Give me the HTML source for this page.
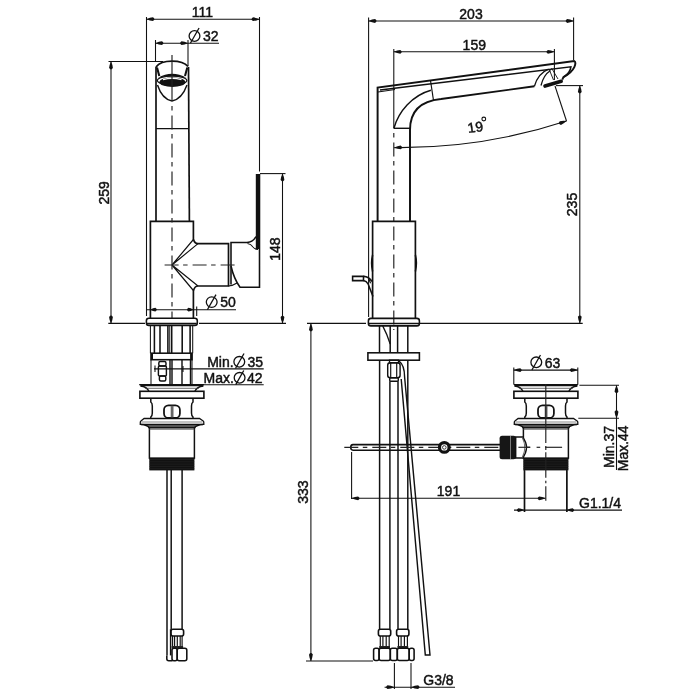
<!DOCTYPE html>
<html><head><meta charset="utf-8"><style>
html,body{margin:0;padding:0;background:#fff;}
svg{display:block;filter:grayscale(1);}
text{font-family:"Liberation Sans",sans-serif;fill:#111;stroke:#111;stroke-width:0.45px;}
</style></head><body>
<svg width="700" height="700" viewBox="0 0 700 700" stroke-linecap="butt">
<rect width="700" height="700" fill="#fff"/>
<line x1="146.5" y1="17" x2="146.5" y2="316" stroke="#111" stroke-width="1.07" />
<line x1="259.5" y1="17" x2="259.5" y2="171.5" stroke="#111" stroke-width="1.07" />
<line x1="146.5" y1="19.2" x2="259.5" y2="19.2" stroke="#111" stroke-width="1.07" />
<path d="M146.50,19.20 Q150.07,17.49 153.00,17.30 Q155.85,19.20 153.00,21.10 Q150.07,20.91 146.50,19.20 Z" fill="#111"/>
<path d="M259.50,19.20 Q255.93,20.91 253.00,21.10 Q250.15,19.20 253.00,17.30 Q255.93,17.49 259.50,19.20 Z" fill="#111"/>
<text x="202.5" y="16.8" text-anchor="middle" font-size="14" >111</text>
<line x1="155.5" y1="40" x2="155.5" y2="62" stroke="#111" stroke-width="1.07" />
<line x1="188" y1="40" x2="188" y2="66" stroke="#111" stroke-width="1.07" />
<line x1="155.5" y1="43.2" x2="219" y2="43.2" stroke="#111" stroke-width="1.07" />
<path d="M155.50,43.20 Q159.07,41.49 162.00,41.30 Q164.85,43.20 162.00,45.10 Q159.07,44.91 155.50,43.20 Z" fill="#111"/>
<path d="M188.00,43.20 Q184.43,44.91 181.50,45.10 Q178.65,43.20 181.50,41.30 Q184.43,41.49 188.00,43.20 Z" fill="#111"/>
<ellipse cx="194.5" cy="36" rx="5.39" ry="5.3" fill="none" stroke="#111" stroke-width="1.3"/>
<line x1="190.40" y1="43.2" x2="199.06" y2="28" stroke="#111" stroke-width="1.3"/>
<text x="203.0" y="40.7" text-anchor="start" font-size="14" >32</text>
<line x1="108.5" y1="61.5" x2="163" y2="61.5" stroke="#111" stroke-width="1.07" />
<line x1="111" y1="61.5" x2="111" y2="323.5" stroke="#111" stroke-width="1.07" />
<path d="M111.00,61.50 Q112.71,65.08 112.90,68.00 Q111.00,70.85 109.10,68.00 Q109.29,65.08 111.00,61.50 Z" fill="#111"/>
<path d="M111.00,323.50 Q109.29,319.93 109.10,317.00 Q111.00,314.15 112.90,317.00 Q112.71,319.93 111.00,323.50 Z" fill="#111"/>
<text transform="translate(103.6,192.9) rotate(-90)" text-anchor="middle" y="5.04" font-size="14" >259</text>
<line x1="108.3" y1="323.4" x2="145" y2="323.4" stroke="#111" stroke-width="1.07" />
<line x1="199" y1="323.4" x2="286" y2="323.4" stroke="#111" stroke-width="1.07" />
<path d="M156,67 C159,63 165,61.2 172,61.2 C179,61.2 185,63 188,66.5" stroke="#111" stroke-width="1.82" fill="none" />
<line x1="156" y1="67" x2="156" y2="221.4" stroke="#111" stroke-width="1.69" />
<line x1="188.5" y1="67" x2="189.4" y2="221.4" stroke="#111" stroke-width="1.69" />
<line x1="156" y1="128.6" x2="189" y2="128.6" stroke="#111" stroke-width="1.3" />
<path d="M157,67.5 L159.3,76 M187.3,67.5 L185,76" stroke="#111" stroke-width="2.08" fill="none" />
<path d="M158,77.8 Q172,69.5 186.5,77.8 Q172,74 158,77.8 Z" fill="#111"/>
<ellipse cx="172.1" cy="80.6" rx="14.75" ry="4.4" fill="none" stroke="#111" stroke-width="1.3"/>
<ellipse cx="172.4" cy="82.2" rx="13" ry="4.8" fill="#111"/>
<path d="M163,79.6 Q172,77.2 181.5,79.6" fill="none" stroke="#fff" stroke-width="1.3"/>
<path d="M157.5,85 Q162,99 172,101 Q182,99 187,85" stroke="#111" stroke-width="1.43" fill="none" />
<path d="M150.4,318.2 L150.4,221.4 L193.4,221.4 L193.4,239 Q194.5,243.6 198,243.6 L228.5,243.6 L228.5,286 L198,286 Q194.5,286 193.4,291 L193.4,318.2" stroke="#111" stroke-width="1.69" fill="none" />
<path d="M172,265 L193.4,239.5 M172,265 L198,243.6 M172,265 L193.4,290.5 M172,265 L198,286" stroke="#111" stroke-width="1.17" fill="none" />
<path d="M231,284.4 L231,242.5 L247,242.5 Q253,242 256,236.5" stroke="#111" stroke-width="1.56" fill="none" />
<path d="M231,266 Q234,279 240,287.3 L259.5,287.3 L259.5,174" stroke="#111" stroke-width="1.56" fill="none" />
<rect x="255.8" y="174" width="4.2" height="75" rx="0" stroke="#111" stroke-width="0.0" fill="#111"/>
<path d="M247.5,243.5 Q251,244 253,247 Q255,249.5 258,249.5" stroke="#111" stroke-width="1.04" fill="none" />
<path d="M228.5,286 Q233,285.6 237,283" stroke="#111" stroke-width="1.17" fill="none" />
<line x1="172" y1="55" x2="172" y2="101" stroke="#222" stroke-width="1.17" />
<line x1="172" y1="106" x2="172" y2="318" stroke="#222" stroke-width="1.17" stroke-dasharray="14 4.5 4.5 5" stroke-dashoffset="18.60"/>
<line x1="163" y1="265" x2="237.5" y2="265" stroke="#222" stroke-width="1.17" stroke-dasharray="14 4.5 4.5 5" stroke-dashoffset="26.40"/>
<line x1="260" y1="173.6" x2="285.5" y2="173.6" stroke="#111" stroke-width="1.07" />
<line x1="282.5" y1="173.6" x2="282.5" y2="323.6" stroke="#111" stroke-width="1.07" />
<path d="M282.50,173.60 Q284.21,177.17 284.40,180.10 Q282.50,182.95 280.60,180.10 Q280.79,177.17 282.50,173.60 Z" fill="#111"/>
<path d="M282.50,323.60 Q280.79,320.03 280.60,317.10 Q282.50,314.25 284.40,317.10 Q284.21,320.03 282.50,323.60 Z" fill="#111"/>
<text transform="translate(275,249.2) rotate(-90)" text-anchor="middle" y="5.04" font-size="14" >148</text>
<line x1="146.5" y1="309.7" x2="236" y2="309.7" stroke="#111" stroke-width="1.07" />
<path d="M150.40,309.70 Q153.15,307.99 155.40,307.80 Q158.25,309.70 155.40,311.60 Q153.15,311.41 150.40,309.70 Z" fill="#111"/>
<path d="M193.40,309.70 Q190.65,311.41 188.40,311.60 Q185.55,309.70 188.40,307.80 Q190.65,307.99 193.40,309.70 Z" fill="#111"/>
<line x1="196.7" y1="306.5" x2="196.7" y2="316" stroke="#111" stroke-width="1.07" />
<ellipse cx="211.7" cy="302.1" rx="5.39" ry="5.3" fill="none" stroke="#111" stroke-width="1.3"/>
<line x1="207.37" y1="309.7" x2="215.97" y2="294.6" stroke="#111" stroke-width="1.3"/>
<text x="220.3" y="307.1" text-anchor="start" font-size="14" >50</text>
<rect x="146.4" y="318.2" width="50.9" height="7.2" rx="2.5" stroke="#111" stroke-width="1.56" fill="none"/>
<line x1="147" y1="323.5" x2="196.7" y2="323.5" stroke="#111" stroke-width="1.3" />
<line x1="150.4" y1="325.4" x2="150.4" y2="353.2" stroke="#111" stroke-width="1.04" />
<line x1="192.7" y1="325.4" x2="192.7" y2="353.2" stroke="#111" stroke-width="1.04" />
<line x1="154.4" y1="325.4" x2="154.4" y2="353.2" stroke="#111" stroke-width="1.56" />
<line x1="160" y1="325.4" x2="160" y2="353.2" stroke="#111" stroke-width="1.56" />
<line x1="167.9" y1="325.4" x2="167.9" y2="353.2" stroke="#111" stroke-width="1.56" />
<line x1="171.7" y1="325.4" x2="171.7" y2="353.2" stroke="#111" stroke-width="1.56" />
<line x1="182.2" y1="325.4" x2="182.2" y2="353.2" stroke="#111" stroke-width="1.56" />
<line x1="190.1" y1="325.4" x2="190.1" y2="353.2" stroke="#111" stroke-width="1.56" />
<line x1="169.7" y1="325.4" x2="169.7" y2="353.2" stroke="#111" stroke-width="0.91" />
<rect x="151" y="353.2" width="41.1" height="6.5" rx="0" stroke="#111" stroke-width="1.56" fill="none"/>
<rect x="151" y="353.2" width="2" height="6.5" rx="0" stroke="#111" stroke-width="0.0" fill="#111"/>
<rect x="190.1" y="353.2" width="2" height="6.5" rx="0" stroke="#111" stroke-width="0.0" fill="#111"/>
<line x1="151" y1="359.7" x2="151" y2="384" stroke="#111" stroke-width="1.04" />
<line x1="192" y1="359.7" x2="192" y2="384" stroke="#111" stroke-width="1.04" />
<line x1="170" y1="359.7" x2="170" y2="384" stroke="#111" stroke-width="1.43" />
<line x1="172" y1="359.7" x2="172" y2="384" stroke="#111" stroke-width="1.43" />
<line x1="182" y1="359.7" x2="182" y2="384" stroke="#111" stroke-width="1.43" />
<line x1="190.5" y1="359.7" x2="190.5" y2="384" stroke="#111" stroke-width="1.43" />
<rect x="158.8" y="361.5" width="7.2" height="4.5" rx="1.5" stroke="#111" stroke-width="1.43" fill="none"/>
<rect x="158.4" y="366" width="8" height="10" rx="1" stroke="#111" stroke-width="1.43" fill="none"/>
<rect x="159.4" y="376" width="6.4" height="5" rx="1.5" stroke="#111" stroke-width="1.43" fill="none"/>
<text x="207.2" y="366.6" text-anchor="start" font-size="14" >Min.</text>
<ellipse cx="239.3" cy="361.8" rx="5.39" ry="5.3" fill="none" stroke="#111" stroke-width="1.3"/>
<line x1="235.48" y1="368.5" x2="244.03" y2="353.5" stroke="#111" stroke-width="1.3"/>
<text x="247.5" y="366.6" text-anchor="start" font-size="14" >35</text>
<text x="203.6" y="382.6" text-anchor="start" font-size="14" >Max.</text>
<ellipse cx="239.6" cy="377.8" rx="5.39" ry="5.3" fill="none" stroke="#111" stroke-width="1.3"/>
<line x1="235.73" y1="384.6" x2="243.76" y2="370.5" stroke="#111" stroke-width="1.3"/>
<text x="247" y="382.6" text-anchor="start" font-size="14" >42</text>
<line x1="154" y1="368.9" x2="263.7" y2="368.9" stroke="#111" stroke-width="1.07" />
<line x1="183" y1="366" x2="183" y2="372" stroke="#111" stroke-width="1.07" />
<line x1="155" y1="365.5" x2="155" y2="372" stroke="#111" stroke-width="1.07" />
<line x1="139" y1="384.8" x2="263.7" y2="384.8" stroke="#111" stroke-width="1.07" />
<path d="M139.5,384 L204.3,384 L202.9,386.3 L140.9,386.3 Z" fill="#111"/>
<path d="M140.4,386 Q146.9,386.5 148.9,391.3 M203.4,386 Q196.9,386.5 194.9,391.3" stroke="#111" stroke-width="1.43" fill="none" />
<line x1="144.9" y1="388.3" x2="198.9" y2="388.3" stroke="#444" stroke-width="0.78" />
<rect x="139.9" y="391.3" width="64" height="6.9" rx="0" stroke="#111" stroke-width="1.62" fill="none"/>
<path d="M150.8,398.2 L150.8,402 Q152.3,403 152.3,406 L152.3,413 Q152.3,416 150.8,417 L150.8,418.8 M193.0,398.2 L193.0,402 Q191.5,403 191.5,406 L191.5,413 Q191.5,416 193.0,417 L193.0,418.8" stroke="#111" stroke-width="1.49" fill="none" />
<rect x="164.0" y="405.3" width="15.9" height="12.6" rx="4.5" stroke="#111" stroke-width="1.76" fill="none"/>
<rect x="170.70" y="405.8" width="2.8" height="11.6" rx="0" stroke="#666" stroke-width="0.0" fill="#666"/>
<path d="M141.4,424.3 L202.4,424.3 Q196.4,424.8 194.4,428 L149.4,428 Q147.4,424.8 141.4,424.3 Z" fill="#555"/>
<path d="M144.1,418.5 L199.5,418.5 L203.20,421 Q203.8,421.4 203.8,422.4 L203.8,424.3 L140.3,424.3 L140.3,422.4 Q140.3,421.4 140.9,421 Z" stroke="#111" stroke-width="1.3" fill="#fff" />
<line x1="141.4" y1="422" x2="202.4" y2="422" stroke="#666" stroke-width="0.78" />
<path d="M140.9,424.5 Q147.4,424.8 149.4,428 M203.1,424.5 Q196.4,424.8 194.4,428" stroke="#111" stroke-width="1.56" fill="none" />
<rect x="149.4" y="427.8" width="45" height="30.3" rx="0" stroke="#111" stroke-width="1.49" fill="none"/>
<line x1="149.4" y1="429.3" x2="194.4" y2="429.3" stroke="#555" stroke-width="0.78" />
<rect x="149.3" y="458" width="45.1" height="12.4" rx="0" stroke="#111" stroke-width="0.0" fill="#111"/>
<line x1="149.3" y1="459.5" x2="194.4" y2="459.5" stroke="#2a2a2a" stroke-width="0.52" />
<line x1="149.3" y1="461.8" x2="194.4" y2="461.8" stroke="#2a2a2a" stroke-width="0.52" />
<line x1="149.3" y1="464.1" x2="194.4" y2="464.1" stroke="#2a2a2a" stroke-width="0.52" />
<line x1="149.3" y1="466.4" x2="194.4" y2="466.4" stroke="#2a2a2a" stroke-width="0.52" />
<line x1="149.3" y1="468.7" x2="194.4" y2="468.7" stroke="#2a2a2a" stroke-width="0.52" />
<line x1="167" y1="470" x2="167" y2="655.4" stroke="#111" stroke-width="1.49" />
<line x1="171.2" y1="470" x2="171.2" y2="629.3" stroke="#111" stroke-width="1.49" />
<line x1="170.6" y1="629.3" x2="170.6" y2="655.4" stroke="#111" stroke-width="1.49" />
<line x1="182.1" y1="470" x2="182.1" y2="629.3" stroke="#111" stroke-width="1.49" />
<rect x="171" y="629.3" width="12.6" height="6.7" rx="2" stroke="#111" stroke-width="1.62" fill="none"/>
<line x1="172.6" y1="636" x2="172.6" y2="646.3" stroke="#111" stroke-width="1.17" />
<line x1="174.6" y1="636" x2="174.6" y2="646.3" stroke="#111" stroke-width="1.17" />
<line x1="177.3" y1="636" x2="177.3" y2="646.3" stroke="#111" stroke-width="1.17" />
<line x1="180.2" y1="636" x2="180.2" y2="646.3" stroke="#111" stroke-width="1.17" />
<line x1="182.1" y1="636" x2="182.1" y2="646.3" stroke="#111" stroke-width="1.17" />
<rect x="171.6" y="646" width="11.5" height="2.2" rx="0" stroke="#222" stroke-width="0.0" fill="#222"/>
<rect x="172" y="648.3" width="5.2" height="12.4" rx="2" stroke="#111" stroke-width="1.56" fill="none"/>
<rect x="177.2" y="648.3" width="9.6" height="12.4" rx="2" stroke="#111" stroke-width="1.56" fill="none"/>
<path d="M166.8,655.4 L166.8,658.7 Q166.8,660.7 168.8,660.7 L172.5,660.7" stroke="#111" stroke-width="1.56" fill="none" />
<line x1="368.6" y1="17.5" x2="368.6" y2="317" stroke="#111" stroke-width="1.07" />
<line x1="573.6" y1="17.5" x2="573.6" y2="60" stroke="#111" stroke-width="1.07" />
<line x1="368.6" y1="21" x2="573.6" y2="21" stroke="#111" stroke-width="1.07" />
<path d="M368.60,21.00 Q372.18,19.29 375.10,19.10 Q377.95,21.00 375.10,22.90 Q372.18,22.71 368.60,21.00 Z" fill="#111"/>
<path d="M573.60,21.00 Q570.02,22.71 567.10,22.90 Q564.25,21.00 567.10,19.10 Q570.02,19.29 573.60,21.00 Z" fill="#111"/>
<text x="471" y="18.7" text-anchor="middle" font-size="14" >203</text>
<line x1="393.8" y1="49" x2="393.8" y2="128.3" stroke="#111" stroke-width="1.07" />
<line x1="554.4" y1="49" x2="554.4" y2="80" stroke="#111" stroke-width="1.07" />
<line x1="393.8" y1="51.8" x2="554.4" y2="51.8" stroke="#111" stroke-width="1.07" />
<path d="M393.80,51.80 Q397.38,50.09 400.30,49.90 Q403.15,51.80 400.30,53.70 Q397.38,53.51 393.80,51.80 Z" fill="#111"/>
<path d="M554.40,51.80 Q550.82,53.51 547.90,53.70 Q545.05,51.80 547.90,49.90 Q550.82,50.09 554.40,51.80 Z" fill="#111"/>
<text x="474.3" y="49.5" text-anchor="middle" font-size="14" >159</text>
<path d="M377.6,221.4 L377.6,87.6 L574.3,61.1 C576.8,62 575.5,71 563.4,77.2 L562.3,79.6" stroke="#111" stroke-width="1.95" fill="none" />
<path d="M380,90 L570.9,66.8 Q570.5,72.5 563.4,77.2" stroke="#111" stroke-width="1.62" fill="none" />
<path d="M378,92 L395,89.6" stroke="#111" stroke-width="1.04" fill="none" />
<path d="M394,128 C398.5,112 412,95.5 430.9,90.3" stroke="#111" stroke-width="1.43" fill="none" />
<line x1="430.5" y1="80.5" x2="433.5" y2="100.5" stroke="#111" stroke-width="1.17" />
<path d="M410,221.4 L410,130 Q410,102 441,99 L534.4,86.3" stroke="#111" stroke-width="1.95" fill="none" />
<path d="M534.4,86.3 Q538,73.5 548.5,69.2 M541,85.5 Q543.5,75 550.5,70.5" stroke="#111" stroke-width="1.3" fill="none" />
<line x1="393.8" y1="128.3" x2="410" y2="128.3" stroke="#111" stroke-width="1.43" />
<line x1="545" y1="86.1" x2="561.2" y2="81.3" stroke="#111" stroke-width="3.6" stroke-linecap="round"/>
<path d="M549,69 L553.5,80 M551.5,68 L558,79" stroke="#111" stroke-width="0.91" fill="none" />
<line x1="555" y1="86" x2="566.5" y2="121" stroke="#111" stroke-width="1.07" />
<path d="M394.2,147.6 A531,531 0 0 0 566.5,121" stroke="#111" stroke-width="1.07" fill="none" />
<path d="M394.20,147.60 Q397.69,145.71 400.60,145.38 Q403.54,147.13 400.79,149.17 Q397.86,149.13 394.20,147.60 Z" fill="#111"/>
<path d="M566.50,121.00 Q563.66,123.76 560.95,124.88 Q557.64,123.98 559.73,121.27 Q562.57,120.52 566.50,121.00 Z" fill="#111"/>
<text x="475.2" y="132" text-anchor="middle" font-size="14" transform="rotate(-8 475.2 127)">19</text>
<circle cx="483.8" cy="119" r="1.9" fill="none" stroke="#111" stroke-width="1.1"/>
<line x1="556" y1="85.6" x2="583" y2="85.6" stroke="#111" stroke-width="1.07" />
<line x1="579.8" y1="85.6" x2="579.8" y2="323.3" stroke="#111" stroke-width="1.07" />
<path d="M579.80,85.60 Q581.51,89.17 581.70,92.10 Q579.80,94.95 577.90,92.10 Q578.09,89.17 579.80,85.60 Z" fill="#111"/>
<path d="M579.80,323.30 Q578.09,319.73 577.90,316.80 Q579.80,313.95 581.70,316.80 Q581.51,319.73 579.80,323.30 Z" fill="#111"/>
<line x1="419.6" y1="323.4" x2="582.7" y2="323.4" stroke="#111" stroke-width="1.07" />
<text transform="translate(572,204.5) rotate(-90)" text-anchor="middle" y="5.04" font-size="14" >235</text>
<line x1="393.8" y1="128.3" x2="393.8" y2="330" stroke="#222" stroke-width="1.17" stroke-dasharray="14 4.5 4.5 5" stroke-dashoffset="13.80"/>
<path d="M372.6,318.3 L372.6,221.4 L415.4,221.4 L415.4,318.3" stroke="#111" stroke-width="1.69" fill="none" />
<path d="M372.6,255 Q370.6,263.2 372.6,271.5 M415.4,255 Q417.4,263.2 415.4,271.5" stroke="#111" stroke-width="1.56" fill="none" />
<path d="M363.5,276.4 L352.6,276.4 L352.6,280.6 L363.5,280.6 Z" stroke="#111" stroke-width="1.56" fill="none" />
<path d="M363.5,276.4 Q369,276.6 372,281.5 M363.5,280.6 Q366.5,281 368.1,284 L373,296.5" stroke="#111" stroke-width="1.56" fill="none" />
<line x1="368.6" y1="278.6" x2="370.6" y2="283.2" stroke="#111" stroke-width="1.17" />
<rect x="368.4" y="318.4" width="51" height="7.5" rx="2.5" stroke="#111" stroke-width="1.56" fill="none"/>
<line x1="369" y1="323.5" x2="419" y2="323.5" stroke="#111" stroke-width="1.3" />
<line x1="307" y1="323.4" x2="366" y2="323.4" stroke="#111" stroke-width="1.07" />
<line x1="379.5" y1="325.9" x2="379.5" y2="352.8" stroke="#111" stroke-width="1.49" />
<line x1="390.2" y1="325.9" x2="390.2" y2="352.8" stroke="#111" stroke-width="1.49" />
<line x1="397.6" y1="325.9" x2="397.6" y2="352.8" stroke="#111" stroke-width="1.49" />
<line x1="407.8" y1="325.9" x2="407.8" y2="352.8" stroke="#111" stroke-width="1.49" />
<path d="M382.7,325.9 Q387,334 390.2,344" stroke="#111" stroke-width="1.3" fill="none" />
<rect x="367.9" y="352.8" width="51.5" height="7.4" rx="0" stroke="#111" stroke-width="1.56" fill="none"/>
<rect x="389.5" y="360.1" width="9" height="2.8" rx="0" stroke="#111" stroke-width="1.3" fill="none"/>
<rect x="387.7" y="362.7" width="12.4" height="15" rx="2.5" stroke="#111" stroke-width="1.43" fill="none"/>
<line x1="390.7" y1="362.7" x2="390.7" y2="377.7" stroke="#111" stroke-width="1.17" />
<line x1="396.7" y1="362.7" x2="396.7" y2="377.7" stroke="#111" stroke-width="1.17" />
<rect x="389.7" y="377.7" width="8.6" height="3.6" rx="1" stroke="#111" stroke-width="1.43" fill="none"/>
<line x1="379.6" y1="360.1" x2="379.6" y2="629" stroke="#111" stroke-width="1.49" />
<line x1="389.9" y1="381.3" x2="389.9" y2="629" stroke="#111" stroke-width="1.49" />
<line x1="398" y1="381.3" x2="398" y2="629" stroke="#111" stroke-width="1.49" />
<line x1="407.8" y1="360.1" x2="407.8" y2="629" stroke="#111" stroke-width="1.49" />
<path d="M401.2,379 L425.3,655 L430,655 L404.6,377 Q404.5,365 399,361" stroke="#111" stroke-width="1.43" fill="none" />
<rect x="378.4" y="629.3" width="12.3" height="6.7" rx="2" stroke="#111" stroke-width="1.62" fill="none"/>
<line x1="380.29" y1="636" x2="380.29" y2="646.3" stroke="#111" stroke-width="1.17" />
<line x1="382.9" y1="636" x2="382.9" y2="646.3" stroke="#111" stroke-width="1.17" />
<line x1="386.2" y1="636" x2="386.2" y2="646.3" stroke="#111" stroke-width="1.17" />
<line x1="389.2" y1="636" x2="389.2" y2="646.3" stroke="#111" stroke-width="1.17" />
<rect x="379.2" y="646" width="10.8" height="2.2" rx="0" stroke="#222" stroke-width="0.0" fill="#222"/>
<rect x="396.6" y="629.3" width="12.3" height="6.7" rx="2" stroke="#111" stroke-width="1.62" fill="none"/>
<line x1="398.5" y1="636" x2="398.5" y2="646.3" stroke="#111" stroke-width="1.17" />
<line x1="401.1" y1="636" x2="401.1" y2="646.3" stroke="#111" stroke-width="1.17" />
<line x1="404.40" y1="636" x2="404.40" y2="646.3" stroke="#111" stroke-width="1.17" />
<line x1="407.40" y1="636" x2="407.40" y2="646.3" stroke="#111" stroke-width="1.17" />
<rect x="397.40" y="646" width="10.8" height="2.2" rx="0" stroke="#222" stroke-width="0.0" fill="#222"/>
<rect x="373.6" y="648.2" width="5.5" height="12.3" rx="2" stroke="#111" stroke-width="1.56" fill="none"/>
<rect x="379.1" y="648.2" width="11.2" height="12.3" rx="2" stroke="#111" stroke-width="1.56" fill="none"/>
<rect x="390.3" y="648.2" width="7.0" height="12.3" rx="2" stroke="#111" stroke-width="1.56" fill="none"/>
<rect x="397.3" y="648.2" width="11.9" height="12.3" rx="2" stroke="#111" stroke-width="1.56" fill="none"/>
<rect x="409.2" y="648.2" width="4.9" height="12.3" rx="2" stroke="#111" stroke-width="1.56" fill="none"/>
<line x1="306" y1="661" x2="373" y2="661" stroke="#111" stroke-width="1.07" />
<line x1="310.9" y1="323.5" x2="310.9" y2="661" stroke="#111" stroke-width="1.07" />
<path d="M310.90,323.50 Q312.61,327.07 312.80,330.00 Q310.90,332.85 309.00,330.00 Q309.19,327.07 310.90,323.50 Z" fill="#111"/>
<path d="M310.90,661.00 Q309.19,657.42 309.00,654.50 Q310.90,651.65 312.80,654.50 Q312.61,657.42 310.90,661.00 Z" fill="#111"/>
<text transform="translate(303.4,492.2) rotate(-90)" text-anchor="middle" y="5.04" font-size="14" >333</text>
<line x1="394.4" y1="663" x2="394.4" y2="689" stroke="#111" stroke-width="1.07" />
<line x1="411" y1="663" x2="411" y2="689" stroke="#111" stroke-width="1.07" />
<line x1="384.6" y1="687.2" x2="455" y2="687.2" stroke="#111" stroke-width="1.07" />
<path d="M394.50,687.20 Q390.65,688.91 387.50,689.10 Q384.65,687.20 387.50,685.30 Q390.65,685.49 394.50,687.20 Z" fill="#111"/>
<path d="M411.10,687.20 Q414.95,685.49 418.10,685.30 Q420.95,687.20 418.10,689.10 Q414.95,688.91 411.10,687.20 Z" fill="#111"/>
<text x="423.3" y="685.3" text-anchor="start" font-size="14" >G3/8</text>
<path d="M353,444.6 L500,444.6 M353,450.2 L500,450.2 M353,444.6 Q350.6,444.8 350.8,447.4 Q350.6,450 353,450.2" stroke="#111" stroke-width="1.62" fill="none" />
<line x1="344.3" y1="447.4" x2="500" y2="447.4" stroke="#222" stroke-width="1.17" stroke-dasharray="14 4.5 4.5 5" stroke-dashoffset="0.00"/>
<circle cx="444.3" cy="447.4" r="4.8" fill="#fff" stroke="#111" stroke-width="3.2"/>
<circle cx="444.3" cy="447.4" r="1.8" fill="none" stroke="#111" stroke-width="0.8"/>
<line x1="351.6" y1="452" x2="351.6" y2="499" stroke="#111" stroke-width="1.07" />
<line x1="351.6" y1="498.3" x2="545.6" y2="498.3" stroke="#111" stroke-width="1.07" />
<path d="M351.60,498.30 Q355.18,496.59 358.10,496.40 Q360.95,498.30 358.10,500.20 Q355.18,500.01 351.60,498.30 Z" fill="#111"/>
<path d="M545.60,498.30 Q542.02,500.01 539.10,500.20 Q536.25,498.30 539.10,496.40 Q542.02,496.59 545.60,498.30 Z" fill="#111"/>
<text x="448.5" y="495.6" text-anchor="middle" font-size="14" >191</text>
<line x1="513.8" y1="367.4" x2="513.8" y2="384.6" stroke="#111" stroke-width="1.07" />
<line x1="577.8" y1="367.4" x2="577.8" y2="384.6" stroke="#111" stroke-width="1.07" />
<line x1="513.8" y1="370.1" x2="577.8" y2="370.1" stroke="#111" stroke-width="1.07" />
<path d="M513.80,370.10 Q517.38,368.39 520.30,368.20 Q523.15,370.10 520.30,372.00 Q517.38,371.81 513.80,370.10 Z" fill="#111"/>
<path d="M577.80,370.10 Q574.22,371.81 571.30,372.00 Q568.45,370.10 571.30,368.20 Q574.22,368.39 577.80,370.10 Z" fill="#111"/>
<ellipse cx="536.3" cy="362.3" rx="5.39" ry="5.3" fill="none" stroke="#111" stroke-width="1.3"/>
<line x1="531.91" y1="370" x2="540.46" y2="355" stroke="#111" stroke-width="1.3"/>
<text x="544.8" y="367.5" text-anchor="start" font-size="14" >63</text>
<path d="M513.5,384 L578.3,384 L576.9,386.3 L514.9,386.3 Z" fill="#111"/>
<path d="M514.4,386 Q520.9,386.5 522.9,391.3 M577.4,386 Q570.9,386.5 568.9,391.3" stroke="#111" stroke-width="1.43" fill="none" />
<line x1="518.9" y1="388.3" x2="572.9" y2="388.3" stroke="#444" stroke-width="0.78" />
<rect x="513.9" y="391.3" width="64" height="6.9" rx="0" stroke="#111" stroke-width="1.62" fill="none"/>
<path d="M524.8,398.2 L524.8,402 Q526.3,403 526.3,406 L526.3,413 Q526.3,416 524.8,417 L524.8,418.8 M567.0,398.2 L567.0,402 Q565.5,403 565.5,406 L565.5,413 Q565.5,416 567.0,417 L567.0,418.8" stroke="#111" stroke-width="1.49" fill="none" />
<rect x="538.0" y="405.3" width="15.9" height="12.6" rx="4.5" stroke="#111" stroke-width="1.76" fill="none"/>
<rect x="544.69" y="405.8" width="2.8" height="11.6" rx="0" stroke="#666" stroke-width="0.0" fill="#666"/>
<path d="M515.4,424.3 L576.4,424.3 Q570.4,424.8 568.4,428 L523.4,428 Q521.4,424.8 515.4,424.3 Z" fill="#555"/>
<path d="M518.1,418.5 L573.5,418.5 L577.19,421 Q577.8,421.4 577.8,422.4 L577.8,424.3 L514.3,424.3 L514.3,422.4 Q514.3,421.4 514.9,421 Z" stroke="#111" stroke-width="1.3" fill="#fff" />
<line x1="515.4" y1="422" x2="576.4" y2="422" stroke="#666" stroke-width="0.78" />
<path d="M514.9,424.5 Q521.4,424.8 523.4,428 M577.1,424.5 Q570.4,424.8 568.4,428" stroke="#111" stroke-width="1.56" fill="none" />
<rect x="523.4" y="427.8" width="45" height="30.3" rx="0" stroke="#111" stroke-width="1.49" fill="none"/>
<line x1="523.4" y1="429.3" x2="568.4" y2="429.3" stroke="#555" stroke-width="0.78" />
<rect x="523.3" y="458" width="45.1" height="12.4" rx="0" stroke="#111" stroke-width="0.0" fill="#111"/>
<line x1="523.3" y1="459.5" x2="568.4" y2="459.5" stroke="#2a2a2a" stroke-width="0.52" />
<line x1="523.3" y1="461.8" x2="568.4" y2="461.8" stroke="#2a2a2a" stroke-width="0.52" />
<line x1="523.3" y1="464.1" x2="568.4" y2="464.1" stroke="#2a2a2a" stroke-width="0.52" />
<line x1="523.3" y1="466.4" x2="568.4" y2="466.4" stroke="#2a2a2a" stroke-width="0.52" />
<line x1="523.3" y1="468.7" x2="568.4" y2="468.7" stroke="#2a2a2a" stroke-width="0.52" />
<line x1="524.6" y1="470.3" x2="524.6" y2="512" stroke="#111" stroke-width="1.49" />
<line x1="566.9" y1="470.3" x2="566.9" y2="512" stroke="#111" stroke-width="1.49" />
<line x1="545.8" y1="384" x2="545.8" y2="443" stroke="#222" stroke-width="1.17" />
<line x1="545.8" y1="446" x2="545.8" y2="450" stroke="#222" stroke-width="1.17" />
<line x1="545.8" y1="452.2" x2="545.8" y2="477.7" stroke="#222" stroke-width="1.17" />
<line x1="545.8" y1="480.8" x2="545.8" y2="483.2" stroke="#222" stroke-width="1.17" />
<line x1="545.8" y1="486.2" x2="545.8" y2="500.8" stroke="#222" stroke-width="1.17" />
<line x1="518.4" y1="447.3" x2="530.2" y2="447.3" stroke="#222" stroke-width="1.17" />
<line x1="536.6" y1="447.3" x2="540.2" y2="447.3" stroke="#222" stroke-width="1.17" />
<line x1="545.1" y1="447.3" x2="562.1" y2="447.3" stroke="#222" stroke-width="1.17" />
<rect x="499.6" y="435.7" width="16.4" height="23.6" rx="2.5" stroke="#161616" stroke-width="0.0" fill="#161616"/>
<line x1="510.5" y1="436" x2="510.5" y2="459" stroke="#999" stroke-width="0.78" />
<path d="M515.7,437 L522.5,437 Q530.5,447.5 522.5,458 L515.7,458 Z" stroke="#111" stroke-width="1.43" fill="#fff" />
<path d="M522.3,437.5 Q527.3,447.5 522.3,457.5" stroke="#666" stroke-width="1.04" fill="none" />
<line x1="518.4" y1="447.3" x2="530.2" y2="447.3" stroke="#222" stroke-width="1.17" />
<line x1="579.4" y1="385.3" x2="619" y2="385.3" stroke="#111" stroke-width="1.07" />
<line x1="578.3" y1="418.2" x2="619" y2="418.2" stroke="#111" stroke-width="1.07" />
<line x1="616.5" y1="385.3" x2="616.5" y2="470" stroke="#111" stroke-width="1.07" />
<path d="M616.50,385.30 Q618.21,388.88 618.40,391.80 Q616.50,394.65 614.60,391.80 Q614.79,388.88 616.50,385.30 Z" fill="#111"/>
<path d="M616.50,418.20 Q614.79,414.62 614.60,411.70 Q616.50,408.85 618.40,411.70 Q618.21,414.62 616.50,418.20 Z" fill="#111"/>
<text transform="translate(608.5,447) rotate(-90)" text-anchor="middle" y="5.04" font-size="14" >Min.37</text>
<text transform="translate(622.7,448.3) rotate(-90)" text-anchor="middle" y="5.04" font-size="14" >Max.44</text>
<line x1="524.3" y1="470" x2="524.3" y2="512" stroke="#111" stroke-width="1.07" />
<line x1="566.7" y1="470" x2="566.7" y2="512" stroke="#111" stroke-width="1.07" />
<line x1="514" y1="510.1" x2="622" y2="510.1" stroke="#111" stroke-width="1.07" />
<path d="M524.30,510.10 Q521.00,511.81 518.30,512.00 Q515.45,510.10 518.30,508.20 Q521.00,508.39 524.30,510.10 Z" fill="#111"/>
<path d="M566.70,510.10 Q570.00,508.39 572.70,508.20 Q575.55,510.10 572.70,512.00 Q570.00,511.81 566.70,510.10 Z" fill="#111"/>
<text x="579" y="508.2" text-anchor="start" font-size="14" >G1.1/4</text>
</svg></body></html>
